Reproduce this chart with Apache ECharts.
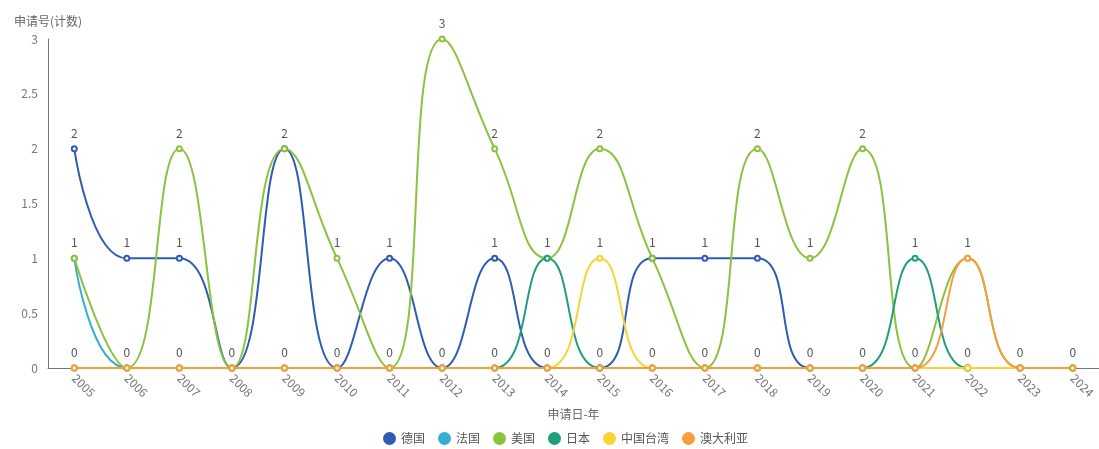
<!DOCTYPE html>
<html><head><meta charset="utf-8">
<script src="https://cdn.jsdelivr.net/npm/echarts@6/dist/echarts.min.js"></script>
<style>html,body{margin:0;padding:0;background:#fff}#c{width:1099px;height:449px}</style>
</head><body><div id="c"></div>
<script>
var years = ['2005','2006','2007','2008','2009','2010','2011','2012','2013','2014','2015','2016','2017','2018','2019','2020','2021','2022','2023','2024'];
var seriesNames = ['德国','法国','美国','日本','中国台湾','澳大利亚'];
var germany = [2,1,1,0,2,0,1,0,1,0,0,1,1,1,0,0,0,0,0,0];
var france  = [1,0,0,0,0,0,0,0,0,0,0,0,0,0,0,0,0,0,0,0];
var usa     = [1,0,2,0,2,1,0,3,2,1,2,1,0,2,1,2,0,1,0,0];
var japan   = [0,0,0,0,0,0,0,0,0,1,0,0,0,0,0,0,1,0,0,0];
var taiwan  = [0,0,0,0,0,0,0,0,0,0,1,0,0,0,0,0,0,0,0,0];
var australia = [0,0,0,0,0,0,0,0,0,0,0,0,0,0,0,0,0,1,0,0];
var yTicks = [0,0.5,1,1.5,2,2.5,3];
var colors = ['#2e5cb3','#36aed3','#8bc340','#1e9e7c','#f9d334','#f79d3d'];
var allData = [germany,france,usa,japan,taiwan,australia];

var chart = echarts.init(document.getElementById('c'));
var font = 'Microsoft YaHei, "Noto Sans CJK SC", sans-serif';
chart.setOption({
  color: colors,
  textStyle: {fontFamily: font},
  grid: {left: 48, right: -3, top: 39, bottom: 81, containLabel: false},
  legend: {
    top: 427, left: 378, icon: 'circle', itemWidth: 13, itemHeight: 13, itemGap: 13,
    textStyle: {color: '#555', fontSize: 12, fontFamily: font},
    data: seriesNames
  },
  xAxis: {
    type: 'category', data: years, boundaryGap: true,
    name: '申请日-年', nameLocation: 'middle', nameGap: 40,
    nameTextStyle: {color: '#666', fontSize: 12},
    axisLine: {lineStyle: {color: '#777'}},
    axisTick: {show: false},
    axisLabel: {rotate: -45, color: '#777', fontSize: 12, interval: 0, margin: 8}
  },
  yAxis: {
    type: 'value', min: 0, max: 3, interval: 0.5,
    name: '申请号(计数)', nameGap: 12,
    nameTextStyle: {color: '#666', fontSize: 12, align: 'center', padding: [0,0,0,0]},
    axisLine: {show: true, lineStyle: {color: '#777'}},
    axisTick: {show: false},
    splitLine: {show: false},
    axisLabel: {color: '#777', fontSize: 12, margin: 10, formatter: function(v){ return yTicks.indexOf(v) >= 0 ? String(v) : ''; }}
  },
  series: seriesNames.map(function(n, i){
    return {
      name: n, type: 'line', smooth: true, data: allData[i],
      symbol: 'emptyCircle', symbolSize: 5, showAllSymbol: true,
      lineStyle: {width: 2},
      label: {show: true, position: 'top', color: '#555', fontSize: 12, distance: 6},
      labelLayout: {hideOverlap: true}
    };
  })
});
</script></body></html>
